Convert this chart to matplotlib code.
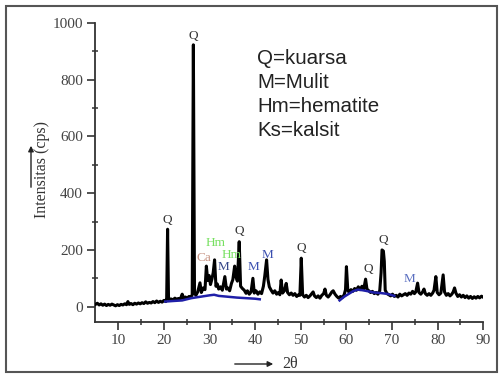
import matplotlib.pyplot as plt
from matplotlib.patches import Rectangle

# XRD pattern (2theta in degrees, intensity in cps)
two_theta = [5.0, 5.4, 5.8, 6.2, 6.6, 7.0, 7.4, 7.8, 8.2, 8.6, 9.0, 9.4, 9.8, 10.2, 10.6, 11.0, 11.4, 11.8,
             12.1, 12.4, 12.8, 13.2, 13.6, 14.0, 14.4, 14.8, 15.2, 15.6, 16.0, 16.4, 16.8, 17.2, 17.6, 18.0,
             18.4, 18.8, 19.2, 19.6, 20.0, 20.4, 20.6, 20.8, 21.0, 21.2, 21.6, 22.0, 22.4, 22.8, 23.2, 23.6,
             24.0, 24.3, 24.7, 25.1, 25.5, 25.9, 26.2, 26.45, 26.7, 27.0, 27.4, 27.9, 28.2, 28.6, 29.0, 29.3,
             29.6, 29.9, 30.2, 30.5, 30.8, 31.1, 31.4, 31.7, 32.0, 32.4, 32.8, 33.1, 33.35, 33.7, 34.0, 34.4,
             34.8, 35.1, 35.5, 35.8, 36.1, 36.5, 36.8, 37.2, 37.6, 38.0, 38.3, 38.7, 39.1, 39.5, 39.8, 40.2,
             40.6, 41.0, 41.4, 41.8, 42.1, 42.5, 42.8, 43.1, 43.5, 43.9, 44.3, 44.7, 45.1, 45.4, 45.7, 46.0,
             46.4, 46.8, 47.1, 47.5, 47.9, 48.3, 48.7, 49.1, 49.5, 49.8, 50.1, 50.4, 50.8, 51.2, 51.6, 52.0,
             52.4, 52.7, 53.0, 53.4, 53.8, 54.2, 54.6, 55.0, 55.3, 55.6, 56.0, 56.4, 56.8, 57.1, 57.5, 57.9,
             58.3, 58.7, 59.1, 59.5, 59.8, 60.0, 60.3, 60.6, 61.0, 61.4, 61.8, 62.2, 62.6, 63.0, 63.4, 63.8,
             64.2, 64.5, 64.9, 65.3, 65.7, 66.1, 66.5, 66.9, 67.3, 67.6, 67.8, 68.1, 68.3, 68.5, 68.9, 69.3,
             69.7, 70.1, 70.5, 70.9, 71.3, 71.7, 72.1, 72.5, 72.9, 73.3, 73.7, 74.1, 74.5, 74.9, 75.2, 75.6,
             75.9, 76.3, 76.7, 77.0, 77.3, 77.7, 78.1, 78.5, 78.9, 79.2, 79.6, 79.9, 80.3, 80.7, 81.2, 81.5,
             81.9, 82.3, 82.7, 83.1, 83.4, 83.7, 84.0, 84.4, 84.8, 85.2, 85.6, 86.0, 86.4, 86.8, 87.2, 87.6,
             88.0, 88.4, 88.8, 89.2, 89.6, 90.0]
cps = [8, 12, 6, 10, 5, 9, 4, 8, 5, 9, 6, 3, 7, 4, 8, 6, 10, 7,
       18, 8, 11, 7, 12, 9, 13, 10, 14, 11, 17, 12, 15, 13, 18, 14,
       20, 15, 19, 16, 22, 18, 30, 273, 35, 22, 27, 24, 30, 26, 29, 27,
       44, 30, 34, 30, 36, 33, 42, 923, 48, 40, 52, 84, 50, 66, 60, 143,
       92, 110, 78, 96, 120, 165, 72, 80, 62, 70, 58, 84, 106, 62, 66, 56,
       82, 95, 143, 104, 90, 229, 72, 64, 58, 47, 56, 44, 52, 100, 48, 56,
       44, 52, 46, 72, 108, 165, 96, 70, 58, 48, 56, 44, 50, 42, 94, 48,
       56, 82, 50, 42, 48, 40, 46, 36, 42, 40, 171, 42, 34, 40, 32, 38,
       46, 52, 38, 32, 38, 30, 40, 46, 62, 40, 34, 42, 52, 56, 44, 36,
       30, 36, 32, 42, 60, 141, 58, 50, 60, 54, 64, 58, 70, 60, 72, 62,
       97, 62, 56, 50, 54, 46, 50, 44, 56, 120, 200, 196, 160, 58, 46, 42,
       38, 44, 36, 40, 34, 44, 38, 42, 46, 40, 48, 44, 54, 46, 52, 83,
       50, 44, 52, 62, 46, 40, 46, 40, 48, 58, 106, 50, 42, 48, 112, 52,
       40, 46, 38, 44, 52, 66, 48, 36, 42, 34, 40, 32, 38, 30, 36, 29,
       35, 30, 36, 31, 37, 33]

# amorphous humps (blue)
hump1_theta = [20.3, 22.0, 24.0, 26.0, 28.0, 30.0, 31.0, 32.0, 34.0, 36.0, 38.0, 40.0, 41.0]
hump1_cps = [18, 20, 22, 30, 35, 40, 42, 38, 35, 32, 30, 28, 26]
hump2_theta = [58.5, 59.5, 60.5, 61.5, 62.5, 63.5, 64.5, 66.0, 67.5, 69.0, 70.5]
hump2_cps = [22, 35, 45, 55, 60, 58, 55, 50, 48, 45, 38]

# phase labels
peak_names = ['Q', 'Q', 'Ca', 'Hm', 'M', 'Hm', 'Q', 'M', 'M', 'Q', 'Q', 'Q', 'M']
peak_theta = [20.7, 26.4, 28.8, 31.4, 33.0, 34.8, 36.6, 39.7, 42.8, 50.1, 64.7, 68.0, 73.8]
peak_cps = [305, 955, 172, 224, 139, 182, 265, 139, 182, 206, 132, 235, 97]
peak_colors = ['#333333', '#333333', '#c89585', '#77e060', '#334488', '#77e060', '#333333',
               '#3a4fb0', '#3a4fb0', '#333333', '#333333', '#333333', '#5a6fc0']

legend_lines = ['Q=kuarsa', 'M=Mulit', 'Hm=hematite', 'Ks=kalsit']

W, H = 502, 374
fig = plt.figure(figsize=(W / 100, H / 100), dpi=100)
ax = fig.add_axes([95.5 / W, 52.3 / H, 387.8 / W, 298.7 / H])

ax.plot(two_theta, cps, color='black', lw=2.2, zorder=3)
ax.plot(hump1_theta, hump1_cps, color='#1f1fa8', lw=1.8, zorder=4)
ax.plot(hump2_theta, hump2_cps, color='#1f1fa8', lw=1.8, zorder=4)

for name, t, c, col in zip(peak_names, peak_theta, peak_cps, peak_colors):
    ax.text(t, c, name, color=col, fontsize=9.5, family='Liberation Serif',
            ha='center', va='center', zorder=5)

ax.set_xlim(5, 90)
ax.set_ylim(-53, 1000)
ax.set_xticks(range(10, 91, 10))
ax.set_xticks(range(15, 90, 10), minor=True)
ax.set_yticks(range(0, 1001, 200))
ax.set_yticks(range(100, 1000, 200), minor=True)
for s in ['top', 'right']:
    ax.spines[s].set_visible(False)
for s in ['left', 'bottom']:
    ax.spines[s].set_color('#333333')
    ax.spines[s].set_linewidth(1.3)
ax.tick_params(which='major', direction='out', length=6, width=1.2, color='#333333',
               labelsize=11, labelcolor='#444444', pad=3)
ax.tick_params(which='minor', direction='inout', length=4, width=1.1, color='#333333')
for lab in ax.get_xticklabels() + ax.get_yticklabels():
    lab.set_family('Liberation Serif')

# axis titles with arrows
fig.text(42 / W, 1 - 169 / H, 'Intensitas (cps)', rotation=90, fontsize=11.5,
         family='Liberation Serif', color='#333333', ha='center', va='center')
ax.annotate('', xy=(31, H - 143), xytext=(31, H - 190), xycoords='figure pixels',
            arrowprops=dict(arrowstyle='-|>', color='#222222', lw=1.0, mutation_scale=8))
fig.text(282 / W, 1 - 364 / H, '2θ', fontsize=11.5, family='Liberation Serif',
         color='#333333', ha='left', va='center')
ax.annotate('', xy=(276, H - 364), xytext=(232, H - 364), xycoords='figure pixels',
            arrowprops=dict(arrowstyle='-|>', color='#222222', lw=1.0, mutation_scale=8))

# key text box
for i, line in enumerate(legend_lines):
    fig.text(257 / W, 1 - (63.5 + 24.2 * i) / H, line, fontsize=14.8,
             family='Liberation Sans', color='#222222', ha='left', va='baseline')

# outer frame
fig.add_artist(Rectangle((6 / W, 2 / H), 491 / W, 366 / H, transform=fig.transFigure,
                         fill=False, edgecolor='#555555', lw=1.5))

fig.savefig('out.png', dpi=100)
